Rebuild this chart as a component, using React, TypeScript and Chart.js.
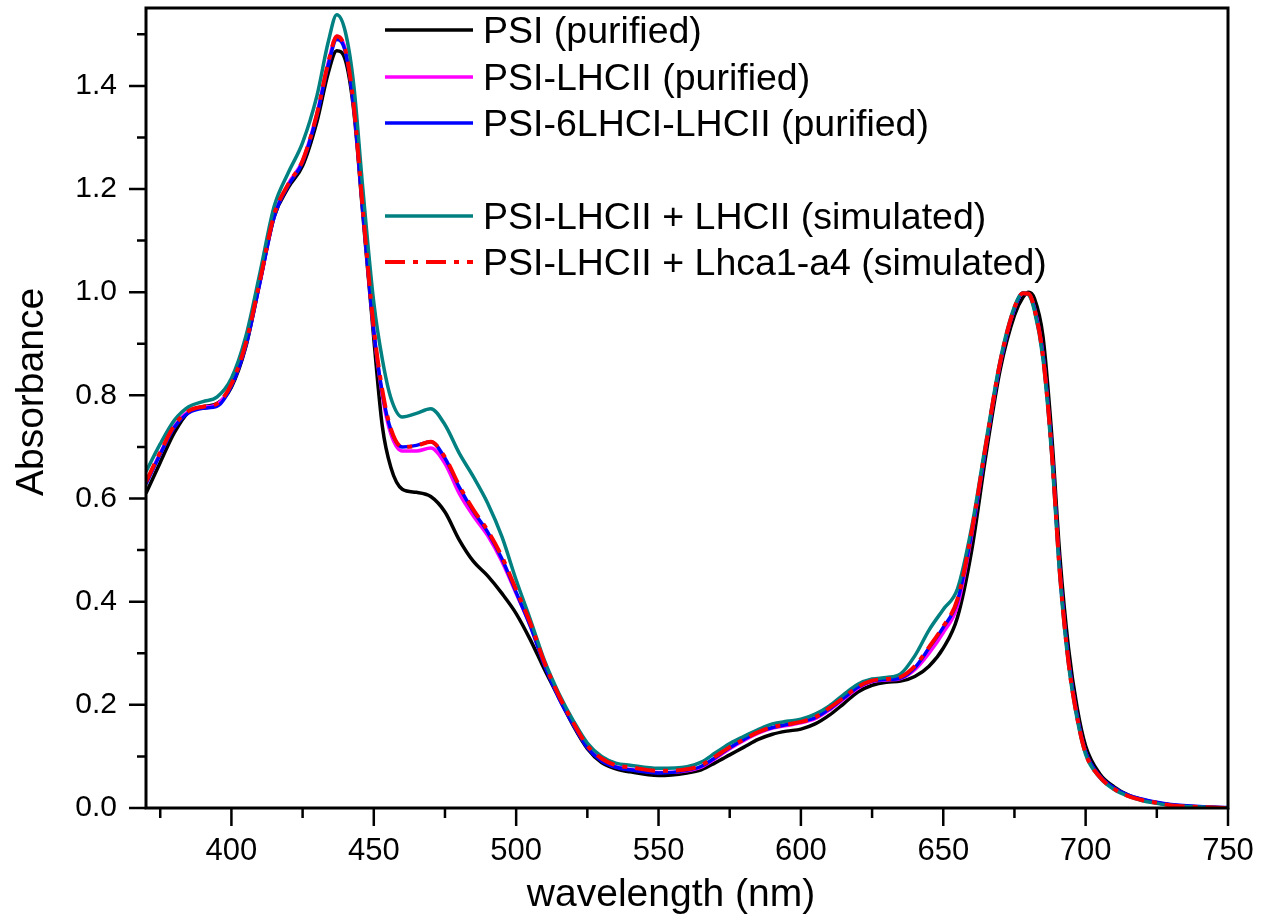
import React, { useEffect, useRef } from "react";
import { Chart, registerables } from "chart.js";

Chart.register(...registerables);

const WAVELENGTH = [370,375,380,385,390,395,400,405,410,415,420,425,430,434,437,440,443,446,450,453,456,460,465,470,475,480,485,490,495,500,505,510,515,520,525,530,535,540,550,560,565,570,575,580,585,590,595,600,605,610,615,620,625,630,635,640,645,650,655,660,665,670,675,678,680,682,685,688,691,694,697,700,705,710,715,720,725,730,740,750];

const PSI = [0.610,0.670,0.728,0.768,0.778,0.784,0.816,0.893,1.020,1.146,1.203,1.245,1.330,1.425,1.468,1.450,1.350,1.160,0.910,0.740,0.660,0.618,0.612,0.604,0.574,0.520,0.478,0.450,0.416,0.377,0.326,0.268,0.214,0.160,0.115,0.088,0.076,0.070,0.063,0.068,0.074,0.088,0.103,0.118,0.133,0.143,0.149,0.153,0.163,0.180,0.202,0.225,0.238,0.244,0.246,0.255,0.275,0.310,0.370,0.500,0.685,0.850,0.955,0.990,1.000,0.988,0.915,0.730,0.485,0.310,0.195,0.120,0.066,0.041,0.025,0.016,0.010,0.006,0.002,0.000];

const PSI_LHCII = [0.630,0.688,0.740,0.769,0.777,0.783,0.820,0.898,1.020,1.148,1.210,1.255,1.345,1.445,1.496,1.470,1.360,1.170,0.925,0.800,0.725,0.692,0.692,0.698,0.668,0.610,0.566,0.528,0.478,0.416,0.353,0.278,0.216,0.163,0.119,0.093,0.080,0.075,0.069,0.072,0.079,0.096,0.115,0.131,0.145,0.155,0.160,0.165,0.173,0.190,0.211,0.232,0.245,0.248,0.251,0.268,0.300,0.340,0.392,0.530,0.702,0.862,0.968,0.998,0.997,0.970,0.880,0.700,0.455,0.285,0.178,0.108,0.061,0.038,0.024,0.016,0.010,0.006,0.002,0.000];

const PSI_6LHCI_LHCII = [0.628,0.686,0.738,0.766,0.775,0.779,0.818,0.895,1.018,1.146,1.207,1.252,1.342,1.440,1.490,1.466,1.358,1.168,0.925,0.805,0.733,0.700,0.703,0.710,0.678,0.622,0.575,0.535,0.483,0.418,0.352,0.276,0.213,0.162,0.117,0.091,0.079,0.074,0.068,0.073,0.081,0.098,0.117,0.133,0.147,0.156,0.162,0.167,0.175,0.192,0.213,0.234,0.246,0.249,0.252,0.272,0.310,0.350,0.402,0.535,0.704,0.864,0.969,0.998,0.996,0.968,0.878,0.698,0.453,0.284,0.177,0.108,0.062,0.039,0.025,0.017,0.011,0.007,0.003,0.001];

const SIM_LHCII = [0.652,0.706,0.752,0.778,0.788,0.797,0.833,0.913,1.037,1.166,1.232,1.290,1.380,1.485,1.538,1.505,1.400,1.210,0.980,0.870,0.795,0.758,0.765,0.774,0.743,0.688,0.642,0.591,0.526,0.442,0.365,0.285,0.222,0.170,0.126,0.100,0.087,0.083,0.077,0.080,0.089,0.107,0.125,0.139,0.152,0.163,0.168,0.172,0.182,0.198,0.220,0.240,0.250,0.253,0.260,0.295,0.345,0.385,0.425,0.545,0.710,0.868,0.972,0.999,0.995,0.965,0.872,0.690,0.445,0.278,0.173,0.104,0.059,0.036,0.023,0.014,0.009,0.005,0.002,0.000];

const SIM_LHCA = [0.632,0.690,0.742,0.770,0.778,0.784,0.822,0.900,1.022,1.150,1.210,1.255,1.345,1.445,1.496,1.470,1.360,1.170,0.930,0.810,0.735,0.700,0.702,0.710,0.680,0.625,0.578,0.538,0.487,0.423,0.358,0.281,0.218,0.166,0.121,0.096,0.083,0.079,0.072,0.075,0.083,0.100,0.118,0.133,0.147,0.157,0.162,0.167,0.176,0.194,0.214,0.235,0.247,0.250,0.254,0.275,0.312,0.352,0.405,0.537,0.705,0.865,0.970,0.998,0.997,0.968,0.876,0.698,0.452,0.282,0.176,0.106,0.060,0.037,0.023,0.015,0.010,0.005,0.002,0.000];

const SERIES_LABELS = [
  "PSI (purified)",
  "PSI-LHCII (purified)",
  "PSI-6LHCI-LHCII (purified)",
  "PSI-LHCII + LHCII (simulated)",
  "PSI-LHCII + Lhca1-a4 (simulated)",
];
const SERIES_COLORS = ["#000000", "#ff00ff", "#0000ff", "#008080", "#ff0000"];

const X_MAJOR = [400, 450, 500, 550, 600, 650, 700, 750];
const X_MINOR = [375, 425, 475, 525, 575, 625, 675, 725];
const Y_MAJOR = [0, 0.2, 0.4, 0.6, 0.8, 1.0, 1.2, 1.4];
const Y_MINOR = [0.1, 0.3, 0.5, 0.7, 0.9, 1.1, 1.3, 1.5];

const X_TITLE = "wavelength (nm)";
const Y_TITLE = "Absorbance";

const FONT = '"Liberation Sans", Arial, Helvetica, sans-serif';

const LEGEND_ROWS = [30, 77, 123, 216, 262];

const framePlugin = {
  id: "framePlugin",
  afterDatasetsDraw(chart: any) {
    const { ctx, chartArea: a, scales } = chart;
    const x = scales.x;
    const y = scales.y;
    ctx.save();
    ctx.strokeStyle = "#000";
    ctx.lineWidth = 3;
    ctx.strokeRect(a.left, a.top, a.right - a.left, a.bottom - a.top);

    ctx.lineWidth = 2.5;
    ctx.beginPath();
    X_MAJOR.forEach((v) => {
      const p = x.getPixelForValue(v);
      ctx.moveTo(p, a.bottom);
      ctx.lineTo(p, a.bottom + 18);
    });
    X_MINOR.forEach((v) => {
      const p = x.getPixelForValue(v);
      ctx.moveTo(p, a.bottom);
      ctx.lineTo(p, a.bottom + 10);
    });
    Y_MAJOR.forEach((v) => {
      const p = y.getPixelForValue(v);
      ctx.moveTo(a.left, p);
      ctx.lineTo(a.left - 17, p);
    });
    Y_MINOR.forEach((v) => {
      const p = y.getPixelForValue(v);
      ctx.moveTo(a.left, p);
      ctx.lineTo(a.left - 9, p);
    });
    ctx.stroke();

    // axis titles
    ctx.fillStyle = "#000";
    ctx.font = "39px " + FONT;
    ctx.textAlign = "center";
    ctx.textBaseline = "alphabetic";
    ctx.fillText(X_TITLE, 671, 906);
    ctx.save();
    ctx.translate(43, 392);
    ctx.rotate(-Math.PI / 2);
    ctx.fillText(Y_TITLE, 0, 0);
    ctx.restore();

    // legend
    ctx.font = "37.5px " + FONT;
    ctx.textAlign = "left";
    chart.data.datasets.forEach((ds: any, i: number) => {
      const ry = LEGEND_ROWS[i];
      ctx.save();
      ctx.strokeStyle = ds.borderColor;
      ctx.lineWidth = ds.borderWidth;
      ctx.setLineDash(ds.borderDash || []);
      ctx.beginPath();
      ctx.moveTo(385, ry);
      ctx.lineTo(473, ry);
      ctx.stroke();
      ctx.restore();
      ctx.fillText(ds.label, 483, ry + 13);
    });
    ctx.restore();
  },
};

export default function App() {
  const canvasRef = useRef<HTMLCanvasElement | null>(null);

  useEffect(() => {
    const canvas = canvasRef.current;
    if (!canvas) return;
    const seriesValues = [PSI, PSI_LHCII, PSI_6LHCI_LHCII, SIM_LHCII, SIM_LHCA];
    const orders = [5, 4, 3, 2, 1];
    const datasets = seriesValues.map((vals, i) => ({
      label: SERIES_LABELS[i],
      data: WAVELENGTH.map((w, j) => ({ x: w, y: vals[j] })),
      borderColor: SERIES_COLORS[i],
      backgroundColor: SERIES_COLORS[i],
      borderWidth: i === 4 ? 4 : 3.5,
      borderDash: i === 4 ? [20, 8, 5, 8] : [],
      pointRadius: 0,
      cubicInterpolationMode: "monotone" as const,
      fill: false,
      order: orders[i],
    }));

    const chart = new Chart(canvas, {
      type: "line",
      data: { datasets },
      options: {
        animation: false,
        responsive: false,
        maintainAspectRatio: false,
        layout: { padding: { left: 0, top: 8, right: 38, bottom: 0 } },
        plugins: {
          legend: { display: false },
          tooltip: { enabled: false },
          title: { display: false },
        },
        scales: {
          x: {
            type: "linear",
            min: 370,
            max: 750,
            grid: { display: false, drawTicks: false },
            border: { display: false },
            title: { display: false },
            ticks: {
              autoSkip: false,
              maxRotation: 0,
              minRotation: 0,
              padding: 25,
              color: "#000",
              font: { family: FONT, size: 31 },
              callback: (v: any) => String(v),
            },
            afterBuildTicks: (scale: any) => {
              scale.ticks = X_MAJOR.map((v) => ({ value: v }));
            },
            afterFit: (scale: any) => {
              scale.height = 111;
              scale.paddingLeft = 0;
              scale.paddingRight = 0;
            },
          },
          y: {
            type: "linear",
            min: 0,
            max: 1.551,
            grid: { display: false, drawTicks: false },
            border: { display: false },
            title: { display: false },
            ticks: {
              padding: 29,
              color: "#000",
              font: { family: FONT, size: 30 },
              callback: (v: any) => Number(v).toFixed(1),
            },
            afterBuildTicks: (scale: any) => {
              scale.ticks = Y_MAJOR.map((v) => ({ value: v }));
            },
            afterFit: (scale: any) => {
              scale.width = 146;
              scale.paddingTop = 0;
              scale.paddingBottom = 0;
            },
          },
        },
      },
      plugins: [framePlugin],
    });
    return () => chart.destroy();
  }, []);

  return (
    <div style={{ position: "fixed", left: 0, top: 0, width: 1266, height: 919, background: "#fff" }}>
      <canvas ref={canvasRef} width={1266} height={919} style={{ display: "block" }} />
    </div>
  );
}
